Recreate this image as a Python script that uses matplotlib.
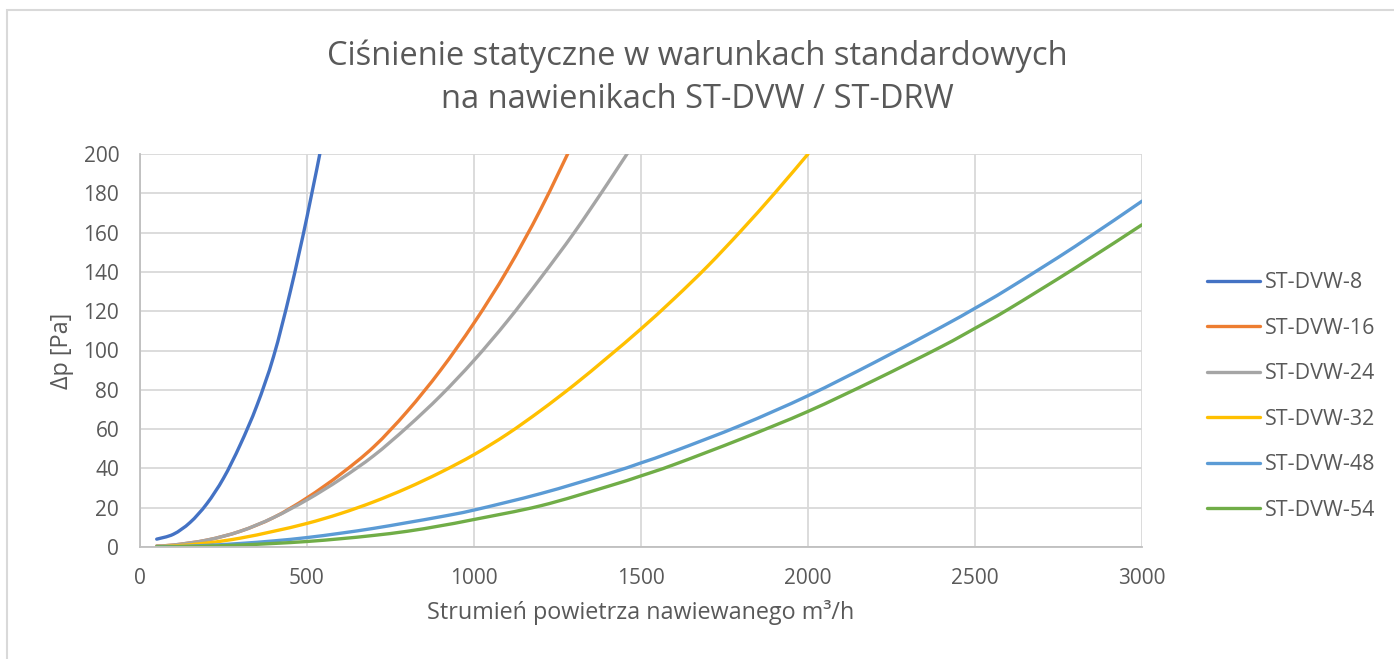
import matplotlib
matplotlib.use("Agg")
import matplotlib.pyplot as plt
from matplotlib.patches import Rectangle, PathPatch
from matplotlib.path import Path
from matplotlib.lines import Line2D

plt.rcParams["font.family"] = ["Open Sans", "DejaVu Sans"]

TITLE = "Ciśnienie statyczne w warunkach standardowych\nna nawienikach ST-DVW / ST-DRW"
XLABEL = "Strumień powietrza nawiewanego m³/h"
YLABEL = "Δp [Pa]"

# dane
x_8 = [50, 100, 150, 200, 250, 300, 350, 400, 450, 500, 550]
y_8 = [4, 6.5, 12.5, 22, 35, 52, 72, 97, 130, 168, 210]

x_16 = [50, 100, 200, 300, 400, 500, 600, 700, 800, 900, 1000, 1100, 1200, 1300]
y_16 = [0.5, 1, 3.5, 8, 15, 25, 37, 51, 69, 90, 114, 141, 172, 207]

x_24 = [50, 100, 200, 300, 400, 500, 600, 700, 800, 900, 1000, 1100, 1200, 1300, 1400, 1500]
y_24 = [0.5, 1, 3.5, 8, 15, 24, 34.5, 46.5, 61, 77, 95, 115, 137, 160, 185, 211]

x_32 = [50, 100, 200, 300, 400, 500, 600, 700, 800, 900, 1000, 1100, 1200, 1300,
        1400, 1500, 1600, 1700, 1800, 1900, 2000]
y_32 = [0.2, 0.5, 2, 4.5, 8, 12, 17, 23, 30, 38, 47, 57.5, 69.5, 82.5,
        96.5, 111, 126.5, 143, 161, 180, 200]

x_48 = [50, 100, 200, 300, 400, 500, 600, 700, 800, 900, 1000, 1200, 1400, 1500,
        1600, 1800, 2000, 2200, 2400, 2500, 2600, 2800, 3000]
y_48 = [0.1, 0.2, 0.8, 1.8, 3.1, 4.8, 7, 9.5, 12.4, 15.4, 18.8, 27.2, 37.2, 42.8,
        48.8, 62, 77, 94, 112, 121.5, 131.5, 153, 176]

x_54 = [50, 100, 200, 300, 400, 500, 600, 700, 800, 900, 1000, 1200, 1400, 1500,
        1600, 1800, 2000, 2200, 2400, 2500, 2600, 2800, 3000]
y_54 = [0.05, 0.1, 0.4, 1, 1.8, 2.8, 4.2, 5.9, 8, 10.8, 14, 21, 30.8, 36.2,
        42, 55, 69, 85, 102, 111.3, 121, 142, 164]

series = [
    ("ST-DVW-8", x_8, y_8, "#4472C4"),
    ("ST-DVW-16", x_16, y_16, "#ED7D31"),
    ("ST-DVW-24", x_24, y_24, "#A5A5A5"),
    ("ST-DVW-32", x_32, y_32, "#FFC000"),
    ("ST-DVW-48", x_48, y_48, "#5B9BD5"),
    ("ST-DVW-54", x_54, y_54, "#70AD47"),
]

TXT = "#595959"
GRID = "#D9D9D9"
LW = 2.4


def smooth_path(xs, ys):
    """Wygładzona linia jak w Excelu (krzywe Beziera przez punkty)."""
    pts = list(zip(xs, ys))
    n = len(pts)
    verts = [pts[0]]
    codes = [Path.MOVETO]
    for i in range(n - 1):
        p0 = pts[max(i - 1, 0)]
        p1 = pts[i]
        p2 = pts[i + 1]
        p3 = pts[min(i + 2, n - 1)]
        c1 = (p1[0] + (p2[0] - p0[0]) / 6, p1[1] + (p2[1] - p0[1]) / 6)
        c2 = (p2[0] - (p3[0] - p1[0]) / 6, p2[1] - (p3[1] - p1[1]) / 6)
        verts += [c1, c2, p2]
        codes += [Path.CURVE4] * 3
    return Path(verts, codes)


fig = plt.figure(figsize=(13.94, 6.59), dpi=100)
ax = fig.add_axes([140 / 1394, 1 - 547 / 659, (1142 - 140) / 1394, (547 - 154) / 659])

handles = []
for name, xs, ys, col in series:
    ax.add_patch(PathPatch(smooth_path(xs, ys), fill=False, edgecolor=col,
                           lw=LW, capstyle="round", joinstyle="round"))
    handles.append(Line2D([], [], color=col, lw=LW, solid_capstyle="round", label=name))

ax.set_xlim(0, 3000)
ax.set_ylim(0, 200)
ax.set_xticks(range(0, 3001, 500))
ax.set_yticks(range(0, 201, 20))
ax.grid(True, color=GRID, lw=1.3)
ax.set_axisbelow(True)
for s in ["top", "right"]:
    ax.spines[s].set_visible(False)
for s in ["left", "bottom"]:
    ax.spines[s].set_color("#BFBFBF")
    ax.spines[s].set_linewidth(1.3)
ax.tick_params(length=0, labelsize=15, labelcolor=TXT, pad=15)

ax.set_xlabel(XLABEL, fontsize=16.8, color=TXT, labelpad=8)
ax.set_ylabel(YLABEL, fontsize=16.8, color=TXT, labelpad=7)
fig.text(0.5, 1 - 78 / 659, TITLE, ha="center", va="center", fontsize=23.5,
         color=TXT, linespacing=1.42)

leg = ax.legend(handles=handles, loc="center left", bbox_to_anchor=(1.0455, 0.383),
                frameon=False, fontsize=15.5, labelspacing=1.14,
                handlelength=2.46, handletextpad=0.23)
for t in leg.get_texts():
    t.set_color(TXT)

# ramka obszaru wykresu
fig.patches.append(Rectangle((7 / 1394, -0.1), 1.2, 1.1 - 10 / 659,
                             transform=fig.transFigure, fill=False,
                             edgecolor=GRID, lw=1.5))

fig.savefig("out.png", dpi=100)
